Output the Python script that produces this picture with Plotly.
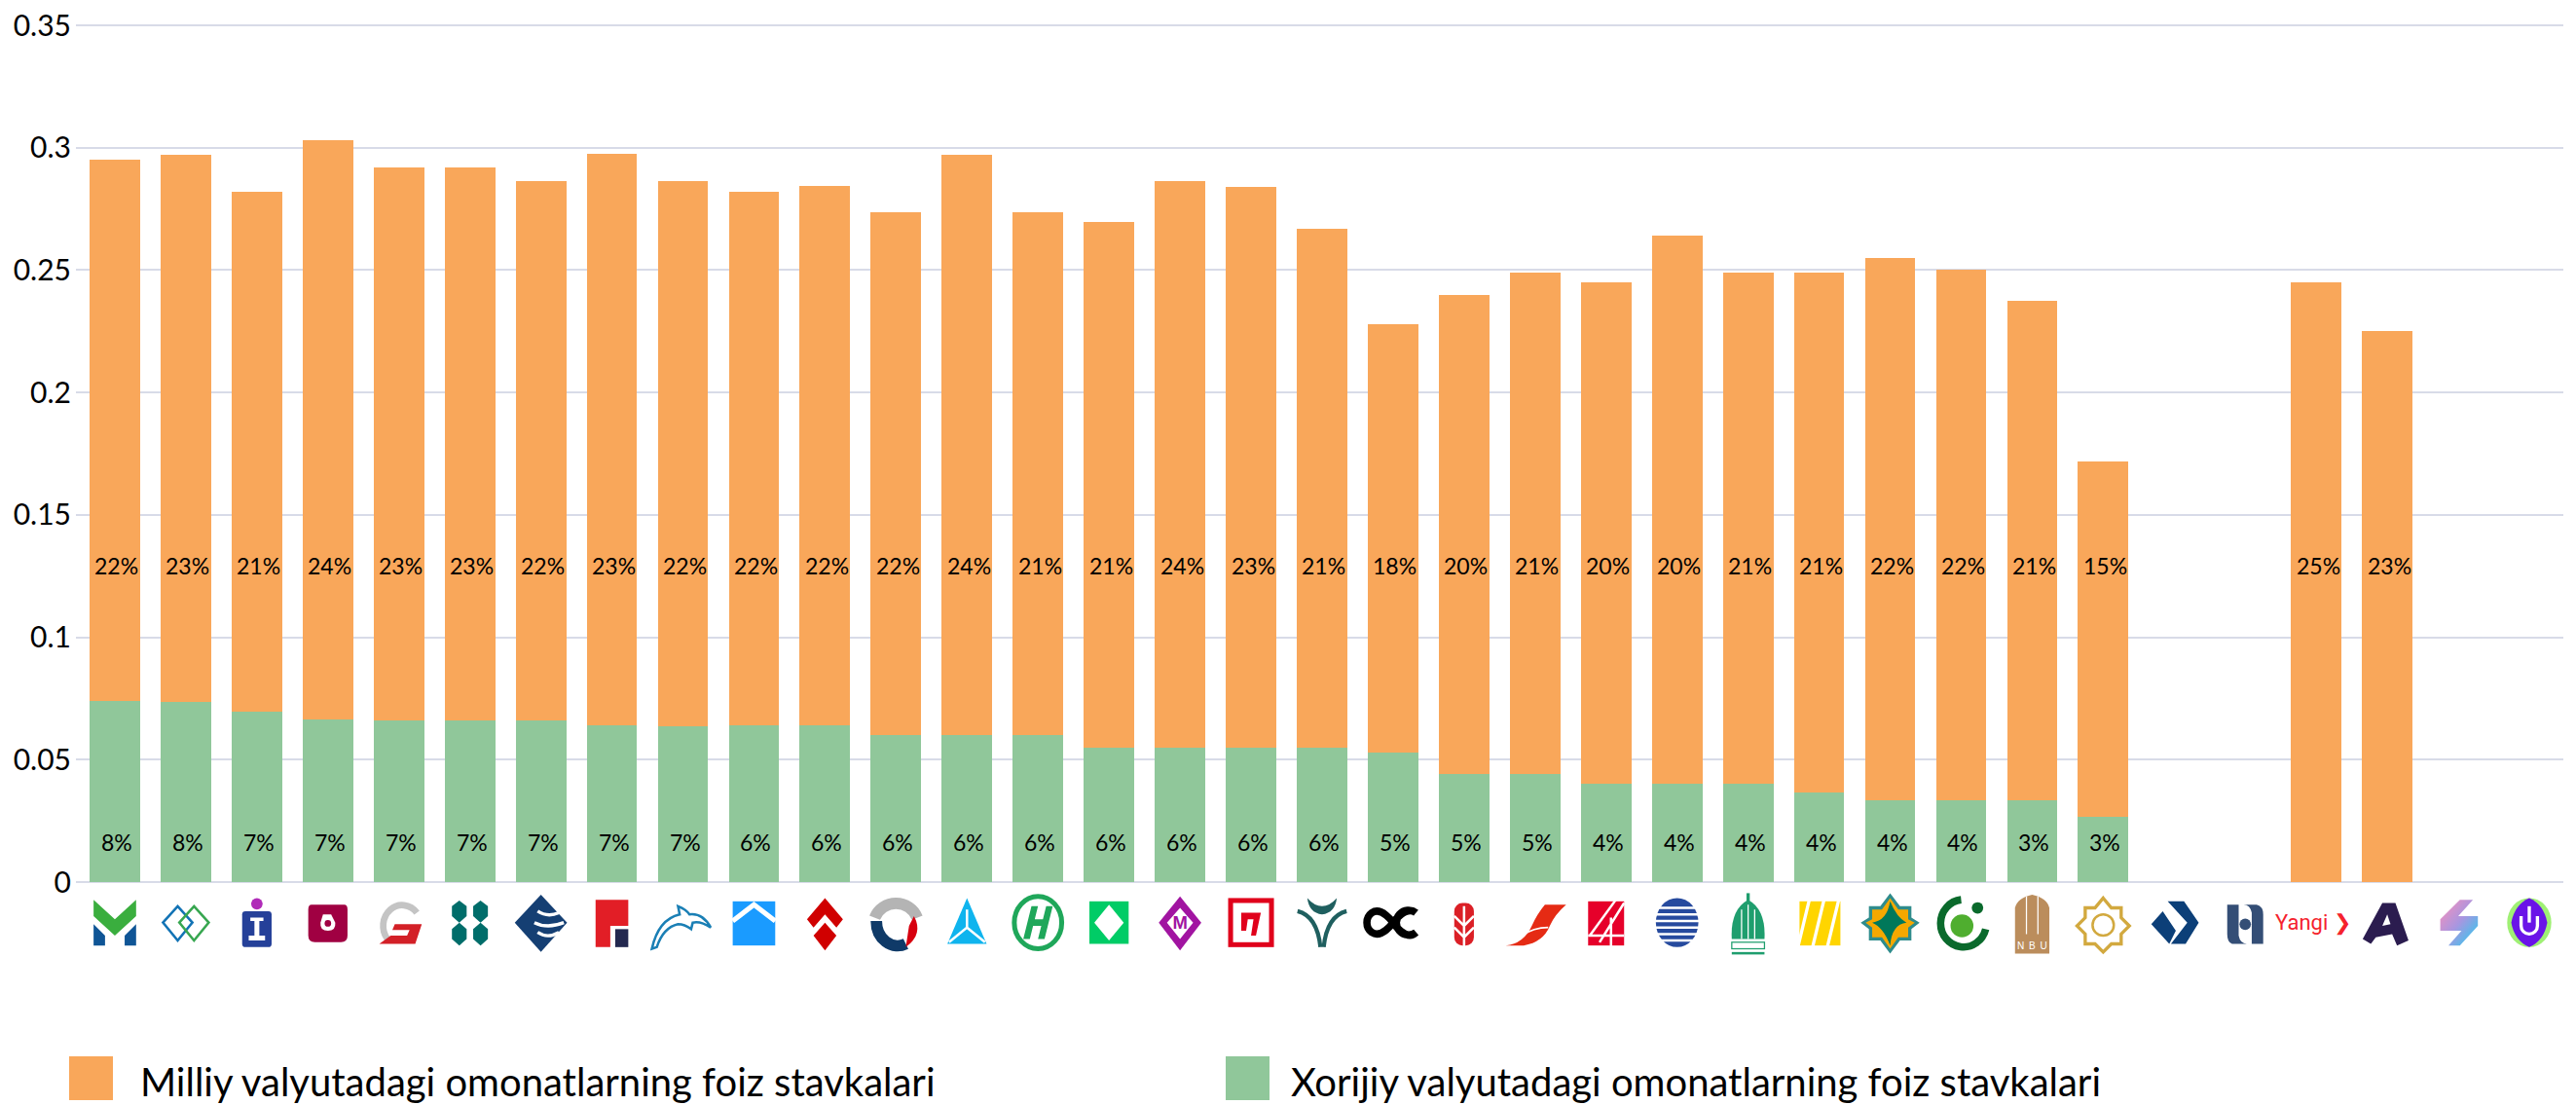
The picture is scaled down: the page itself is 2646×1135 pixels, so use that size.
import base64
import plotly.graph_objects as go

BANKS = [f"bank_{i:02d}" for i in range(1, 36)]

TOTAL = [0.295, 0.297, 0.282, 0.303, 0.292, 0.292, 0.2865, 0.2975, 0.2865, 0.282,
         0.2845, 0.2735, 0.297, 0.2735, 0.2695, 0.2865, 0.284, 0.267, 0.228, 0.24,
         0.249, 0.245, 0.264, 0.249, 0.249, 0.255, 0.25, 0.2375, 0.172,
         None, None, 0.245, 0.225, None, None]
FOREIGN = [0.074, 0.0735, 0.0695, 0.0665, 0.066, 0.066, 0.066, 0.064, 0.0635, 0.064,
           0.064, 0.06, 0.06, 0.06, 0.055, 0.055, 0.055, 0.055, 0.053, 0.044,
           0.044, 0.04, 0.04, 0.04, 0.0365, 0.0335, 0.0335, 0.0335, 0.0265,
           None, None, None, None, None, None]
NATIONAL = [None if t is None else round(t - (f or 0), 4) for t, f in zip(TOTAL, FOREIGN)]

NATIONAL_LABELS = ["22%", "23%", "21%", "24%", "23%", "23%", "22%", "23%", "22%", "22%",
                   "22%", "22%", "24%", "21%", "21%", "24%", "23%", "21%", "18%", "20%",
                   "21%", "20%", "20%", "21%", "21%", "22%", "22%", "21%", "15%",
                   "", "", "25%", "23%", "", ""]
FOREIGN_LABELS = ["8%", "8%", "7%", "7%", "7%", "7%", "7%", "7%", "7%", "6%",
                  "6%", "6%", "6%", "6%", "6%", "6%", "6%", "6%", "5%", "5%",
                  "5%", "4%", "4%", "4%", "4%", "4%", "4%", "3%", "3%",
                  "", "", "", "", "", ""]
NATIONAL_NAME = "Milliy valyutadagi omonatlarning foiz stavkalari"
FOREIGN_NAME = "Xorijiy valyutadagi omonatlarning foiz stavkalari"
Y_TICKS = [0, 0.05, 0.1, 0.15, 0.2, 0.25, 0.3, 0.35]
Y_TICK_TEXT = ["0", "0.05", "0.1", "0.15", "0.2", "0.25", "0.3", "0.35"]

ORANGE = "#F9A75A"
GREEN = "#90C79A"
GRID = "#D8DBE8"
FONT = "Lato, 'Noto Sans', sans-serif"

W, H = 2646, 1135
L, R = 78, 2633
Y0, Y35 = 906, 26          # pixel rows of the 0 and 0.35 gridlines
PAD = 3                    # room so the edge gridlines are not clipped
T, B = Y35 - PAD, Y0 + PAD
PW, PH = R - L, B - T
UNIT = (Y0 - Y35) / 0.35

LOGO_BOX = 84

# Bank logos: simplified vector marks in a 100x100 box.
LOGOS = [
 '<path fill="#3AAE3E" d="M24 18 50 42 76 18V38L50 62 24 38Z"/><path fill="#0F5596" d="M24 48 38 62V74H24ZM76 48 62 62V74H76Z"/>',
 '<g fill="none" stroke-width="3"><path stroke="#1273B5" d="M40 26 58 46 40 68 22 46Z"/><path stroke="#37A650" d="M60 26 78 46 60 68 42 46Z"/></g>',
 '<rect x="32" y="32" width="36" height="44" rx="4" fill="#254099"/><path fill="#fff" d="M42 40H58V44H53V62H60V68H40V62H47V44H42Z"/><circle cx="50" cy="23" r="7" fill="#B02BB8"/>',
 '<path fill="#A00042" d="M30 24H70Q74 24 74 30V62Q74 70 66 70H34Q26 70 26 62V30Q26 24 30 24Z"/><path fill="#fff" d="M44 36H54L59 46Q60 56 50 56Q40 56 41 46Z"/><circle cx="50" cy="47" r="4" fill="#A00042"/>',
 '<path fill="none" stroke="#C4C4C4" stroke-width="8" d="M72 34A22 24 0 1 0 36 66"/><path fill="#D32027" d="M45 48H78L70 72H26L40 62H60L63 55H42Z"/>',
 '<g fill="#006D6A"><path d="M37 19 46 26V38L37 46 28 38V26Z"/><path d="M63 19 72 26V38L63 46 54 38V26Z"/><path d="M37 46 46 54V66L37 74 28 66V54Z"/><path d="M63 46 72 54V66L63 74 54 66V54Z"/></g>',
 '<path fill="#153F73" d="M50 12 82 46 50 82 18 46Z"/><path fill="none" stroke="#fff" stroke-width="4" d="M46 32Q58 40 72 34M42 46Q58 54 78 46M46 58Q58 66 72 58"/>',
 '<path fill="#E21E26" d="M30 18H70V50H48V76H30Z"/><rect x="54" y="54" width="16" height="22" fill="#23284F"/>',
 '<path fill="none" stroke="#1A7FB5" stroke-width="3" d="M12 78Q20 42 46 36L44 26Q54 30 58 36Q74 34 84 52Q72 44 62 46L60 54Q52 48 44 48Q26 52 18 76Z"/>',
 '<rect x="24" y="20" width="52" height="54" fill="#1A9BFF"/><path fill="none" stroke="#fff" stroke-width="6" d="M24 44 50 24 76 44"/>',
 '<path fill="#D00000" d="M50 16 72 42 64 52 50 36 36 52 28 42Z"/><path fill="#D00000" d="M50 46 64 62 50 80 36 62Z"/>',
 '<path fill="none" stroke="#B4B4B4" stroke-width="14" d="M24 40A28 28 0 0 1 76 40"/><path fill="none" stroke="#0F3A68" stroke-width="14" d="M26 44A26 30 0 0 0 62 72"/><path fill="#D7000F" d="M72 38Q84 60 62 76L66 50Z"/>',
 '<path fill="#0FB4EE" d="M50 16 74 72H26Z"/><path fill="none" stroke="#fff" stroke-width="3" d="M50 30V52L28 70M50 52 72 70"/>',
 '<ellipse cx="50" cy="46" rx="29" ry="32" fill="none" stroke="#1FA75A" stroke-width="6"/><path fill="#1FA75A" d="M42 26H50L46 42H56L60 26H68L58 66H50L54 50H44L40 66H32Z"/>',
 '<rect x="26" y="20" width="48" height="52" fill="#00CC66"/><path fill="#fff" d="M50 24 68 46 50 68 32 46Z"/>',
 '<path fill="#A114A1" d="M50 14 76 46 50 80 24 46Z"/><path fill="#fff" d="M50 28 66 46 50 66 34 46Z"/><text x="50" y="54" text-anchor="middle" font-family="Arial,Liberation Sans" font-weight="700" font-size="22" fill="#A114A1">M</text>',
 '<rect x="25" y="19" width="50" height="54" fill="#fff" stroke="#E0001B" stroke-width="6"/><path fill="#E0001B" d="M38 34H62L56 62H50L53 42H46L44 56H38Z"/>',
 '<path fill="none" stroke="#1F5F5F" stroke-width="5" d="M20 32Q44 38 48 76M80 32Q56 38 52 76"/><path fill="#1F5F5F" d="M32 16Q50 36 68 16Q66 34 50 36Q34 34 32 16Z"/>',
 '<path fill="none" stroke="#000" stroke-width="9" d="M78 34A15 15 0 1 0 78 58C66 70 50 46 50 46S36 26 24 34A15 15 0 0 0 24 58C36 66 50 46 50 46S66 24 78 34"/>',
 '<rect x="38" y="22" width="24" height="52" rx="10" fill="#DB1F26"/><path fill="none" stroke="#fff" stroke-width="3" d="M50 26V78M38 38 50 50 62 38M38 52 50 64 62 52"/>',
 '<path fill="#E52B14" d="M14 74Q36 72 46 50Q52 36 62 24H88Q74 36 68 50Q60 70 36 74Z"/><path fill="none" stroke="#fff" stroke-width="2" d="M34 62Q48 52 66 52"/>',
 '<rect x="28" y="20" width="44" height="54" fill="#E6002A"/><path fill="none" stroke="#fff" stroke-width="3" d="M62 18 30 62M72 22 42 70M28 62H72M56 40V76"/>',
 '<ellipse cx="50" cy="46" rx="26" ry="30" fill="#264A9E"/><path stroke="#fff" stroke-width="3" d="M20 28H80M20 36H80M20 44H80M20 52H80M20 60H80M20 68H80"/>',
 '<path fill="#1F9E6E" d="M50 18Q72 30 70 66H30Q28 30 50 18Z"/><rect x="48" y="10" width="4" height="10" fill="#1F9E6E"/><path stroke="#fff" stroke-width="1.5" d="M42 30V66M50 24V66M58 30V66"/><rect x="30" y="70" width="40" height="8" fill="#fff" stroke="#1F9E6E" stroke-width="1.5"/><rect x="30" y="82" width="40" height="3" fill="#1F9E6E"/>',
 '<rect x="26" y="20" width="50" height="54" fill="#FFD500"/><path stroke="#fff" stroke-width="4" d="M38 18 24 76M56 18 42 76M74 18 60 76"/>',
 '<path fill="#2F8C8C" d="M50 10 62 26H76V40L86 46 76 54V68H62L50 84 38 68H24V54L14 46 24 40V26H38Z"/><path fill="#F5A800" d="M50 16 60 30H72V42L80 46 72 52V64H60L50 78 40 64H28V52L20 46 28 42V30H40Z"/><path fill="#00785A" d="M50 20Q58 40 70 46 52 48 50 74 42 52 28 46 46 44 50 20Z"/>',
 '<path fill="none" stroke="#0A6A2C" stroke-width="9" d="M50 18A28 29 0 1 0 80 54"/><circle cx="51" cy="50" r="14" fill="#4FAE2F"/><circle cx="70" cy="28" r="7" fill="#0A6A2C"/>',
 '<path fill="#BB8D5C" d="M29 84V28Q32 16 50 12Q68 16 71 28V84Z"/><path stroke="#fff" stroke-width="1.5" d="M43 14V60M57 14V60"/><g fill="#fff" font-size="12" font-family="Arial,Liberation Sans" text-anchor="middle"><text x="36" y="78">N</text><text x="50" y="78">B</text><text x="64" y="78">U</text></g>',
 '<path fill="none" stroke="#D2A93F" stroke-width="4" d="M50 16 60 28H72V40L82 50 72 60V72H60L50 82 40 72H28V60L18 50 28 40V28H40Z"/><circle cx="50" cy="49" r="13" fill="none" stroke="#D2A93F" stroke-width="3"/>',
 '<path fill="#0C3F78" d="M42 20H62L80 46 64 72H46L66 46ZM36 32 52 56 44 72 22 48Z"/>',
 '<path fill="#344E76" d="M28 24H42V62Q44 72 52 72H34Q28 70 28 60ZM72 72H58V34Q56 24 48 24H64Q72 26 72 36Z"/><circle cx="50" cy="48" r="7" fill="#344E76"/>',
 '',
 '<path fill="#2B1C4F" d="M44 22H60L76 68 62 74 56 60 36 64 30 72 20 66Z"/><path fill="#fff" d="M50 36 54 48 44 50Z"/>',
 '<defs><linearGradient id="s" x1="0" y1="0" x2="1" y2="1"><stop offset="0" stop-color="#FF8FB8"/><stop offset="0.5" stop-color="#A896E0"/><stop offset="1" stop-color="#22D0F0"/></linearGradient></defs><path fill="url(#s)" d="M52 18H68L50 38H74V50L52 74H38L54 56H28V42Z"/>',
 '<ellipse cx="50" cy="46" rx="27" ry="30" fill="#9FF074"/><path fill="#6A14E8" d="M50 16Q68 24 72 46 68 68 50 76 32 68 28 46 32 24 50 16Z"/><path fill="none" stroke="#fff" stroke-width="4" d="M40 38V50A10 10 0 0 0 60 50V38"/><rect x="48" y="26" width="4" height="20" fill="#fff"/>',
]

def logo_uri(body):
    svg = f'<svg xmlns="http://www.w3.org/2000/svg" viewBox="0 0 100 100" width="100" height="100">{body}</svg>'
    return "data:image/svg+xml;base64," + base64.b64encode(svg.encode()).decode()

def py(row):
    return (B - row) / PH

fig = go.Figure()
fig.add_bar(x=BANKS, y=FOREIGN, name=FOREIGN_NAME, marker_color=GREEN, width=0.71)
fig.add_bar(x=BANKS, y=NATIONAL, name=NATIONAL_NAME, marker_color=ORANGE, width=0.71)

images = []
for name, body in zip(BANKS, LOGOS):
    if body:
        images.append(dict(source=logo_uri(body), xref="x", yref="paper", x=name, y=py(951),
                           sizex=LOGO_BOX / 72.96, sizey=LOGO_BOX / PH, xanchor="center", yanchor="middle",
                           sizing="contain", layer="above"))

label_font = dict(family=FONT, size=23, color="#000")
annotations = []
for name, nat, fore in zip(BANKS, NATIONAL_LABELS, FOREIGN_LABELS):
    for text, level in ((fore, 0.0162), (nat, 0.1293)):
        if text:
            annotations.append(dict(xref="x", yref="y", x=name, y=level, text=text, showarrow=False,
                                    xanchor="center", yanchor="middle", xshift=2, font=label_font))
annotations += [
    dict(xref="x", yref="paper", x=BANKS[31], y=py(948), xanchor="center", yanchor="middle", xshift=-3,
         text="Yangi ❯", showarrow=False,
         font=dict(family="Roboto, sans-serif", size=22, color="#F5222D")),
    dict(xref="paper", yref="paper", x=(142 - L) / PW, y=py(1111), xanchor="left", yanchor="middle",
         text=NATIONAL_NAME, showarrow=False, font=dict(family=FONT, size=40, color="#000")),
    dict(xref="paper", yref="paper", x=(1324 - L) / PW, y=py(1111), xanchor="left", yanchor="middle",
         text=FOREIGN_NAME, showarrow=False, font=dict(family=FONT, size=40, color="#000")),
]
shapes = [
    dict(type="rect", xref="paper", yref="paper", x0=(71 - L) / PW, x1=(116 - L) / PW,
         y0=py(1130), y1=py(1085), fillcolor=ORANGE, line_width=0),
    dict(type="rect", xref="paper", yref="paper", x0=(1259 - L) / PW, x1=(1304 - L) / PW,
         y0=py(1130), y1=py(1085), fillcolor=GREEN, line_width=0),
]

fig.update_layout(
    template="none",
    width=W, height=H, autosize=False, barmode="stack", showlegend=False,
    paper_bgcolor="#fff", plot_bgcolor="#fff",
    margin=dict(l=L, r=W - R, t=T, b=H - B, pad=0),
    images=images, annotations=annotations, shapes=shapes,
    xaxis=dict(type="category", categoryorder="array", categoryarray=BANKS,
               range=[-0.548, 34.48], showticklabels=False, ticks="", showgrid=False,
               zeroline=False, showline=False, automargin=False),
    yaxis=dict(range=[-PAD / UNIT, 0.35 + PAD / UNIT], tickvals=Y_TICKS, ticktext=Y_TICK_TEXT,
               gridcolor=GRID, gridwidth=2, zeroline=False, showline=False, ticks="",
               ticklabelstandoff=4, automargin=False,
               tickfont=dict(family=FONT, size=30, color="#000")),
)
fig.write_html("out.html", config={"displayModeBar": False},
               post_script="document.body.style.margin='0';")
